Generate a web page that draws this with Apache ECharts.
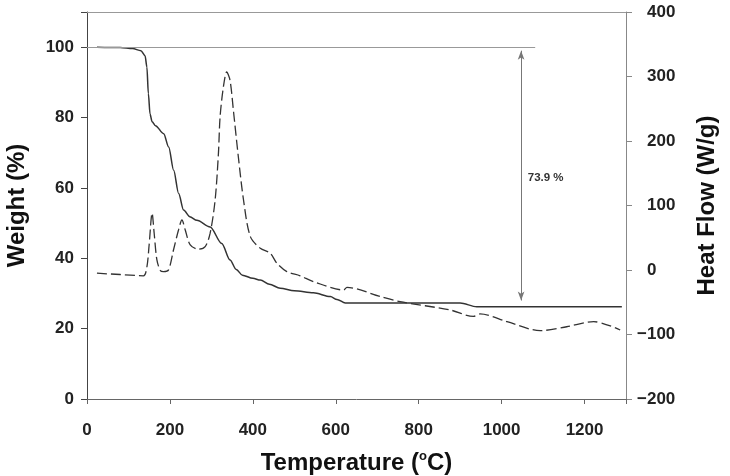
<!DOCTYPE html>
<html>
<head>
<meta charset="utf-8">
<script src="https://cdn.jsdelivr.net/npm/echarts@6/dist/echarts.min.js"></script>
<style>
  html, body { margin: 0; padding: 0; background: #fff; }
  #chart { width: 730px; height: 476px; }
</style>
</head>
<body>
<div id="chart"></div>
<script>
// weight loss (TGA), solid line
var weightTemp = [24, 80, 110, 130, 140, 144.5, 148, 152, 157, 165, 185, 197, 209, 221, 233, 248, 265, 297, 325, 345, 360, 375, 400, 418, 440, 466, 500, 546, 587, 603, 623, 900, 940, 1290]
var weightVal = [100, 99.9, 99.6, 99.0, 97.6, 94.3, 86.8, 81, 78.8, 77.7, 75.4, 71.6, 65, 58.4, 53.7, 51.8, 50.8, 48.9, 44.2, 39.5, 36.8, 35.2, 34.3, 33.8, 32.6, 31.5, 30.8, 30.2, 29.1, 28.3, 27.3, 27.3, 26.2, 26.2]

// heat flow (DSC), dashed line
var heatTemp = [24, 80, 136, 144.5, 150, 157, 162, 168.6, 177, 184.5, 196.6, 208.6, 220.7, 229, 237, 249, 269, 285, 297, 309, 317, 321, 329, 337, 345, 353, 365, 377.5, 394, 418, 442, 458, 482, 514, 546, 619, 627, 707, 755, 876, 932, 948, 1013, 1093, 1157, 1222, 1286]
var heatVal = [-5, -7, -9, 5, 40, 88, 57, 15.6, -1, -2.5, 0.2, 31, 62, 77.5, 62, 38.9, 32.2, 36.2, 57, 108.5, 180.8, 237.5, 284, 307, 294, 248, 175.6, 108.5, 51.7, 33.7, 26, 10.5, -2.5, -9, -18, -31, -27, -41, -49, -62, -72, -68, -80, -94, -88, -80, -93]

var xTicks = [0, 200, 400, 600, 800, 1000, 1200]
var lossText = '73.9 %'
var lossAt = 1047

function pairs(xs, ys) {
  var out = []
  for (var i = 0; i < xs.length; i++) out.push([xs[i], ys[i]])
  return out
}

var chart = echarts.init(document.getElementById('chart'))
var font = 'Liberation Sans, Arial, sans-serif'
var tickLabel = { color: '#222', fontSize: 17, fontWeight: 'bold', fontFamily: font }
var titleStyle = { color: '#111', fontSize: 24, fontWeight: 'bold', fontFamily: font }

var option = {
  animation: false,
  grid: { left: 87, right: 104, top: 12, bottom: 77, containLabel: false, outerBoundsMode: 'none' },
  xAxis: [
    {
      type: 'value', min: 0, max: 1300, interval: 200,
      name: 'Temperature ({sup|o}C)', nameLocation: 'middle', nameGap: 51,
      nameTextStyle: Object.assign({
        rich: { sup: { fontSize: 13, fontWeight: 'bold', fontFamily: font, color: '#111', verticalAlign: 'top', padding: [0, 0, 14, 0] } }
      }, titleStyle),
      axisLine: { onZero: false, lineStyle: { color: '#666', width: 1 } },
      axisTick: { inside: false, length: 5, lineStyle: { color: '#666' } },
      axisLabel: Object.assign({ margin: 23, formatter: function (v) { return xTicks.indexOf(v) >= 0 ? v : '' } }, tickLabel),
      splitLine: { show: false }
    },
    {
      type: 'value', min: 0, max: 1300, position: 'top',
      axisLine: { show: true, onZero: false, lineStyle: { color: '#999', width: 1.2 } },
      axisTick: { show: false }, axisLabel: { show: false }, splitLine: { show: false }
    }
  ],
  yAxis: [
    {
      type: 'value', min: 0, max: 110, interval: 20,
      name: 'Weight (%)', nameLocation: 'middle', nameGap: 58, nameRotate: 90,
      nameTextStyle: titleStyle,
      axisLine: { show: true, onZero: false, lineStyle: { color: '#444', width: 1 } },
      axisTick: { show: true, length: 6, lineStyle: { color: '#444' } },
      axisLabel: Object.assign({ margin: 13, formatter: function (v) { return v > 100 ? '' : v } }, tickLabel),
      splitLine: { show: false }
    },
    {
      type: 'value', min: -200, max: 400, interval: 100, position: 'right',
      name: 'Heat Flow (W/g)', nameLocation: 'middle', nameGap: 69, nameRotate: 90,
      nameTextStyle: titleStyle,
      axisLine: { show: true, onZero: false, lineStyle: { color: '#888', width: 1 } },
      axisTick: { show: true, length: 6, lineStyle: { color: '#888' } },
      axisLabel: Object.assign({
        margin: 11,
        formatter: function (v) { return v < 0 ? '\u2212' + Math.abs(v) : '{pad|}' + v },
        rich: { pad: { width: 10 } }
      }, tickLabel),
      splitLine: { show: false }
    }
  ],
  series: [
    {
      name: 'Weight', type: 'line', xAxisIndex: 0, yAxisIndex: 0,
      data: pairs(weightTemp, weightVal),
      showSymbol: false, smooth: 0.3, smoothMonotone: 'x',
      lineStyle: { color: '#333', width: 1.5 },
      markLine: {
        silent: true, animation: false,
        label: { show: false },
        data: [
          [
            { coord: [0, 100], symbol: 'none', lineStyle: { color: '#999', width: 1, type: 'solid' } },
            { coord: [1081, 100], symbol: 'none' }
          ],
          [
            { coord: [lossAt, 99], symbol: 'arrow', symbolSize: [5, 9], lineStyle: { color: '#777', width: 1, type: 'solid' } },
            { coord: [lossAt, 28], symbol: 'arrow', symbolSize: [5, 9] }
          ]
        ]
      },
      markPoint: {
        silent: true,
        symbol: 'circle', symbolSize: 0,
        data: [{ coord: [1063, 62.8], value: lossText }],
        label: {
          show: true, position: 'right', distance: 0,
          formatter: lossText,
          color: '#333', fontSize: 11.5, fontWeight: 'bold', fontFamily: font
        }
      }
    },
    {
      name: 'Heat Flow', type: 'line', xAxisIndex: 0, yAxisIndex: 1,
      data: pairs(heatTemp, heatVal),
      showSymbol: false, smooth: 0.3,
      lineStyle: { color: '#333', width: 1.3, type: [10, 4] }
    }
  ]
}

chart.setOption(option)
</script>
</body>
</html>
